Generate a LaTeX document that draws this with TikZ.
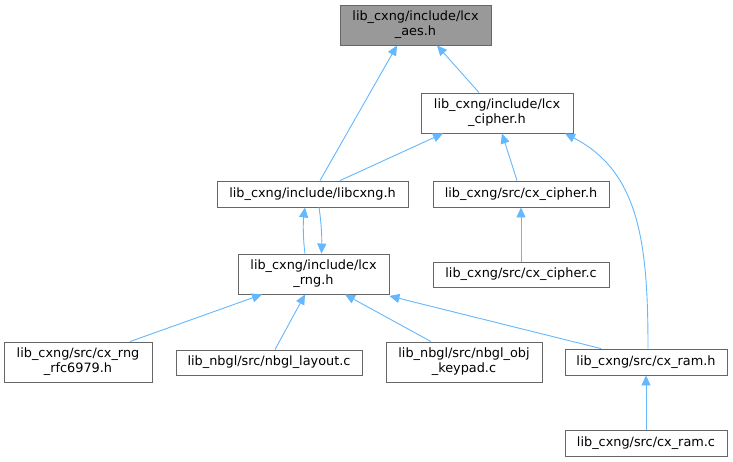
\documentclass[tikz,border=0pt]{standalone}
\usepackage{fontspec}
\setmainfont{DejaVu Sans}
\usetikzlibrary{arrows.meta,calc}
\definecolor{edgeblue}{HTML}{63B8FF}
\definecolor{boxgrey}{HTML}{666666}
\definecolor{rootfill}{HTML}{999999}
\tikzset{
  box/.style={draw=boxgrey, line width=0.9pt, fill=white, inner sep=0pt, align=center,
    font=\fontsize{12.85}{15}\selectfont, text=black},
  rootbox/.style={box, fill=rootfill},
  edge/.style={draw=edgeblue, line width=0.9pt, -{Triangle[length=10pt,width=9pt]}},
}
\begin{document}
\begin{tikzpicture}[x=1pt,y=-1pt]
\useasboundingbox[fill=white] (0,0) rectangle (733,461);
\node[rootbox, minimum width=151pt, minimum height=40pt] (aes) at (415.5,25) {lib\_cxng/include/lcx\\\_aes.h};
\node[box, minimum width=152pt, minimum height=40pt] (cipher) at (497,113) {lib\_cxng/include/lcx\\\_cipher.h};
\node[box, minimum width=191pt, minimum height=26pt] (libcxng) at (312.5,194) {lib\_cxng/include/libcxng.h};
\node[box, minimum width=176pt, minimum height=26pt] (cxcipherh) at (521,194) {lib\_cxng/src/cx\_cipher.h};
\node[box, minimum width=151pt, minimum height=40pt] (rng) at (313.5,274) {lib\_cxng/include/lcx\\\_rng.h};
\node[box, minimum width=176pt, minimum height=25pt] (cxcipherc) at (521,274.5) {lib\_cxng/src/cx\_cipher.c};
\node[box, minimum width=148pt, minimum height=40pt] (rfc) at (78,362) {lib\_cxng/src/cx\_rng\\\_rfc6979.h};
\node[box, minimum width=186pt, minimum height=25pt] (layout) at (269,362.5) {lib\_nbgl/src/nbgl\_layout.c};
\node[box, minimum width=156pt, minimum height=40pt] (keypad) at (464,362) {lib\_nbgl/src/nbgl\_obj\\\_keypad.c};
\node[box, minimum width=162pt, minimum height=26pt] (ramh) at (646,362) {lib\_cxng/src/cx\_ram.h};
\node[box, minimum width=162pt, minimum height=26pt] (ramc) at (646,443) {lib\_cxng/src/cx\_ram.c};

\draw[edge] ([xshift=7.5pt]libcxng.north) -- ([xshift=-18.5pt]aes.south);
\draw[edge] ([xshift=-18pt]cipher.north) -- ([xshift=21.5pt]aes.south);
\draw[edge] ([xshift=27.5pt]libcxng.north) -- ([xshift=-54pt]cipher.south);
\draw[edge] ([xshift=-4pt]cxcipherh.north) -- ([xshift=5pt]cipher.south);
\draw[edge] ([xshift=2pt]ramh.north) .. controls (648,245) and (640,172) .. ([xshift=68pt]cipher.south);
\draw[edge] (cxcipherc.north) -- (cxcipherh.south);
\draw[edge] ([xshift=-8.5pt]rng.north) .. controls (303,240) and (303,222) .. ([xshift=-7.5pt]libcxng.south);
\draw[edge] ([xshift=6.5pt]libcxng.south) .. controls (321,220) and (322,236) .. ([xshift=8pt]rng.north);
\draw[edge] ([xshift=52pt]rfc.north) -- ([xshift=-51.5pt]rng.south);
\draw[edge] ([xshift=6pt]layout.north) -- ([xshift=-8.5pt]rng.south);
\draw[edge] ([xshift=-33pt]keypad.north) -- ([xshift=31.5pt]rng.south);
\draw[edge] ([xshift=-45pt]ramh.north) -- ([yshift=-1.5pt]rng.south east);
\draw[edge] (ramc.north) -- (ramh.south);
\end{tikzpicture}
\end{document}
